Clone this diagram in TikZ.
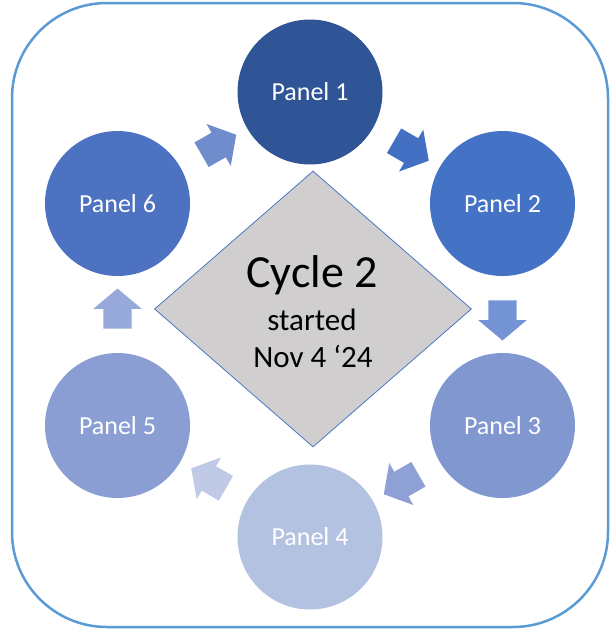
\documentclass[tikz,border=0pt]{standalone}
\usepackage{fontspec}
\setmainfont{Carlito}
\usetikzlibrary{shapes.geometric,shapes.arrows,calc}
\definecolor{framec}{HTML}{5B9BD5}
\definecolor{pc1}{HTML}{2F5597}
\definecolor{pc2}{HTML}{4472C4}
\definecolor{pc3}{HTML}{8097CF}
\definecolor{pc4}{HTML}{B4C2E2}
\definecolor{pc5}{HTML}{8A9ED3}
\definecolor{pc6}{HTML}{4E72C2}
\definecolor{ac12}{HTML}{4470C4}
\definecolor{ac23}{HTML}{7393D4}
\definecolor{ac34}{HTML}{8FA1D4}
\definecolor{ac45}{HTML}{C0CAE6}
\definecolor{ac56}{HTML}{96A9DA}
\definecolor{ac61}{HTML}{6F8CCD}
\definecolor{dfill}{HTML}{D0CECE}
\definecolor{dline}{HTML}{4472C4}
\tikzset{
  panel/.style={circle, minimum size=145, inner sep=0, draw=none, text=white,
    font=\fontsize{26}{30}\selectfont},
  cycarrow/.style={single arrow, draw=none, minimum height=40, text height=28pt,
    text depth=0pt, text width=0pt, single arrow head extend=10pt,
    single arrow tip angle=100, inner sep=0pt, outer sep=0pt},
  centertext/.style={anchor=base, inner sep=0, text=black},
}
\begin{document}
\begin{tikzpicture}[x=1pt,y=-1pt]
\useasboundingbox (0,0) rectangle (610,630);
\draw[framec, line width=2.5, rounded corners=95] (12,3) rectangle (608,627);

\node[diamond, aspect=1.15, draw=dline, fill=dfill, line width=0.75,
  minimum width=317, minimum height=276, inner sep=0] (d) at (313,309) {};
\node[centertext, font=\fontsize{46}{50}\selectfont] (t1) at (312,287) {Cycle 2};
\node[centertext, font=\fontsize{31}{36}\selectfont] (t2) at (312,330) {started};
\node[centertext, font=\fontsize{31}{36}\selectfont] (t3) at (313,367) {Nov 4 ‘24};

\node[panel, fill=pc1] (p1) at (310,92) {Panel 1};
\node[panel, fill=pc2] (p2) at (502.5,203.5) {Panel 2};
\node[panel, fill=pc3] (p3) at (502.5,425.5) {Panel 3};
\node[panel, fill=pc4] (p4) at (310,537) {Panel 4};
\node[panel, fill=pc5] (p5) at (117.5,425.5) {Panel 5};
\node[panel, fill=pc6] (p6) at (117.5,203.5) {Panel 6};

\node[cycarrow, fill=ac12, rotate=-30] (a12) at ($(p1)!0.5!(p2)$) {};
\node[cycarrow, fill=ac23, rotate=-90] (a23) at ($(p2)!0.5!(p3)$) {};
\node[cycarrow, fill=ac34, rotate=-150] (a34) at ($(p3)!0.5!(p4)$) {};
\node[cycarrow, fill=ac45, rotate=150] (a45) at ($(p4)!0.5!(p5)$) {};
\node[cycarrow, fill=ac56, rotate=90] (a56) at ($(p5)!0.5!(p6)$) {};
\node[cycarrow, fill=ac61, rotate=30] (a61) at ($(p6)!0.5!(p1)$) {};
\end{tikzpicture}
\end{document}
